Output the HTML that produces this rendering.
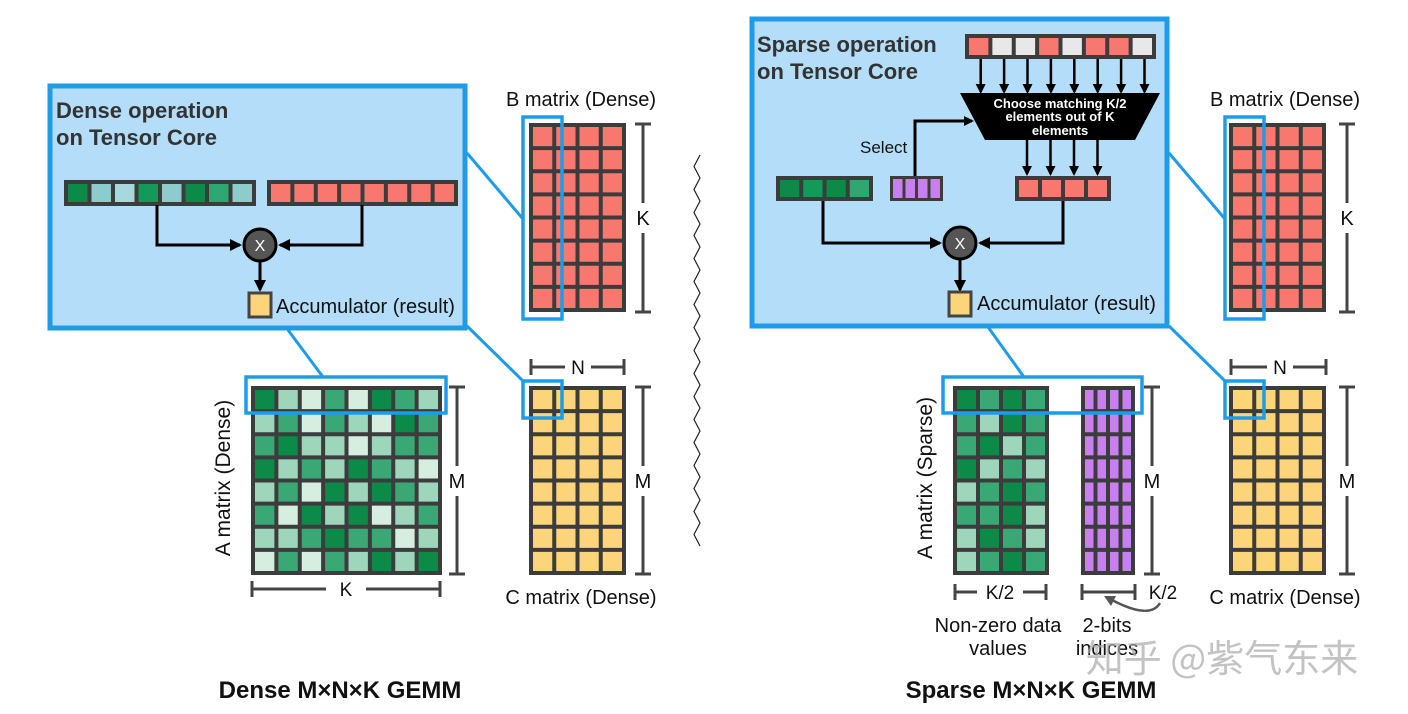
<!DOCTYPE html>
<html><head><meta charset="utf-8"><style>
body{margin:0;background:#fff}
svg{display:block;font-family:"Liberation Sans",Arial,sans-serif}
</style></head><body>
<svg id="s" width="1408" height="714" viewBox="0 0 1408 714" xmlns="http://www.w3.org/2000/svg">
<defs>
<marker id="ah" markerWidth="10" markerHeight="10" refX="8" refY="5" orient="auto" markerUnits="userSpaceOnUse"><path d="M0,0 L10,5 L0,10 z" fill="#000"/></marker>
<marker id="ah2" markerWidth="12" markerHeight="12" refX="10" refY="6" orient="auto" markerUnits="userSpaceOnUse"><path d="M0,0 L12,6 L0,12 z" fill="#000"/></marker>
</defs>
<rect x="50" y="86" width="415" height="242" fill="#b3ddf8" stroke="#1e9ce8" stroke-width="5"/>
<text x="56" y="118" font-size="22" font-weight="bold" fill="#333">Dense operation</text>
<text x="56" y="145" font-size="22" font-weight="bold" fill="#333">on Tensor Core</text>
<g id="L"></g>
<path d="M157,205 V245 H240" fill="none" stroke="#000" stroke-width="3" marker-end="url(#ah2)"/>
<path d="M362,205 V245 H280" fill="none" stroke="#000" stroke-width="3" marker-end="url(#ah2)"/>
<circle cx="260" cy="245" r="16" fill="#555" stroke="#000" stroke-width="3"/>
<text x="260" y="251" font-size="16" fill="#fff" text-anchor="middle">X</text>
<path d="M260,262 V290" stroke="#000" stroke-width="3" marker-end="url(#ah2)"/>
<rect x="249" y="293" width="22" height="24" fill="#fcd57a" stroke="#444" stroke-width="3"/>
<text x="276" y="313" font-size="20" fill="#111">Accumulator (result)</text>
<line x1="288" y1="330" x2="323" y2="377" stroke="#1e9ce8" stroke-width="3"/>
<line x1="467" y1="153" x2="523" y2="219" stroke="#1e9ce8" stroke-width="3"/>
<line x1="467" y1="326" x2="523" y2="381" stroke="#1e9ce8" stroke-width="3"/>
<text x="581" y="106" font-size="20" text-anchor="middle" fill="#111">B matrix (Dense)</text>
<text x="581" y="604" font-size="20" text-anchor="middle" fill="#111">C matrix (Dense)</text>
<text x="230" y="478" font-size="21" text-anchor="middle" fill="#111" transform="rotate(-90 230 478)">A matrix (Dense)</text>
<text x="340" y="698" font-size="24" font-weight="bold" text-anchor="middle" fill="#111">Dense M×N×K GEMM</text>
<rect x="752" y="19" width="415" height="307" fill="#b3ddf8" stroke="#1e9ce8" stroke-width="5"/>
<text x="757" y="52" font-size="22" font-weight="bold" fill="#333">Sparse operation</text>
<text x="757" y="79" font-size="22" font-weight="bold" fill="#333">on Tensor Core</text>
<polygon points="960,93 1160,93 1135,140 985,140" fill="#000"/>
<text x="1060" y="108" font-size="13" font-weight="bold" fill="#fff" text-anchor="middle">Choose matching K/2</text>
<text x="1060" y="121" font-size="13" font-weight="bold" fill="#fff" text-anchor="middle">elements out of K</text>
<text x="1060" y="135" font-size="13" font-weight="bold" fill="#fff" text-anchor="middle">elements</text>
<text x="860" y="153" font-size="17" fill="#111">Select</text>
<path d="M915,176 V121 H972" fill="none" stroke="#000" stroke-width="3" marker-end="url(#ah)"/>
<path d="M823,201 V243 H940" fill="none" stroke="#000" stroke-width="3" marker-end="url(#ah2)"/>
<path d="M1063,201 V243 H980" fill="none" stroke="#000" stroke-width="3" marker-end="url(#ah2)"/>
<circle cx="960" cy="243" r="16" fill="#555" stroke="#000" stroke-width="3"/>
<text x="960" y="249" font-size="16" fill="#fff" text-anchor="middle">X</text>
<path d="M960,260 V290" stroke="#000" stroke-width="3" marker-end="url(#ah2)"/>
<rect x="949" y="292" width="22" height="24" fill="#fcd57a" stroke="#444" stroke-width="3"/>
<text x="977" y="310" font-size="20" fill="#111">Accumulator (result)</text>
<g id="R"></g>
<line x1="988" y1="327" x2="1024" y2="377" stroke="#1e9ce8" stroke-width="3"/>
<line x1="1169" y1="153" x2="1225" y2="219" stroke="#1e9ce8" stroke-width="3"/>
<line x1="1169" y1="326" x2="1225" y2="381" stroke="#1e9ce8" stroke-width="3"/>
<text x="1285" y="106" font-size="20" text-anchor="middle" fill="#111">B matrix (Dense)</text>
<text x="1285" y="604" font-size="20" text-anchor="middle" fill="#111">C matrix (Dense)</text>
<text x="932" y="478" font-size="21" text-anchor="middle" fill="#111" transform="rotate(-90 932 478)">A matrix (Sparse)</text>
<text x="998" y="632" font-size="20" text-anchor="middle" fill="#111">Non-zero data</text>
<text x="998" y="655" font-size="20" text-anchor="middle" fill="#111">values</text>
<text x="1107" y="632" font-size="20" text-anchor="middle" fill="#111">2-bits</text>
<text x="1107" y="655" font-size="20" text-anchor="middle" fill="#111">indices</text>
<path d="M1160,603 Q1150,620 1112,600" fill="none" stroke="#555" stroke-width="2.5"/>
<path d="M1104,596 L1116,596 L1111,606 z" fill="#555"/>
<text x="1031" y="698" font-size="24" font-weight="bold" text-anchor="middle" fill="#111">Sparse M×N×K GEMM</text>
<text x="1222" y="672" font-size="38" text-anchor="middle" fill="#aaa" fill-opacity="0.7" font-family="'Noto Sans CJK SC',sans-serif">知乎 @紫气东来</text>
<path id="zz" fill="none" stroke="#222" stroke-width="1.2"/>
</svg>
<script>
var NS="http://www.w3.org/2000/svg";
function el(p,t,a){var e=document.createElementNS(NS,t);for(var k in a)e.setAttribute(k,a[k]);p.appendChild(e);return e;}
function grid(p,x,y,w,h,c,r,fn,g){g=g||4;el(p,'rect',{x:x,y:y,width:w,height:h,fill:'#3c3c3c'});
var cw=(w-g)/c,ch=(h-g)/r;for(var i=0;i<r;i++)for(var j=0;j<c;j++)el(p,'rect',{x:x+g+j*cw,y:y+g+i*ch,width:cw-g,height:ch-g,fill:fn(i,j)});}
function brV(p,x,y1,y2,lab,ly){el(p,'path',{d:'M'+(x-8)+','+y1+'H'+(x+8)+'M'+x+','+y1+'V'+y2+'M'+(x-8)+','+y2+'H'+(x+8),stroke:'#444','stroke-width':3,fill:'none'});
el(p,'rect',{x:x-11,y:ly-15,width:22,height:30,fill:'#fff'});var t=el(p,'text',{x:x,y:ly+7,'font-size':20,'text-anchor':'middle',fill:'#111'});t.textContent=lab;}
function brH(p,y,x1,x2,lab,lx,bw){el(p,'path',{d:'M'+x1+','+(y-8)+'V'+(y+8)+'M'+x1+','+y+'H'+x2+'M'+x2+','+(y-8)+'V'+(y+8),stroke:'#444','stroke-width':3,fill:'none'});
if(lab){el(p,'rect',{x:lx-bw/2,y:y-12,width:bw,height:24,fill:'#fff'});var t=el(p,'text',{x:lx,y:y+7,'font-size':19,'text-anchor':'middle',fill:'#111'});t.textContent=lab;}}
var G=['#0b8a48','#3aa874','#9ed6bb','#d5eedf'];
var A=[[0,2,3,1,3,0,1,2],[2,1,3,1,2,3,0,1],[1,0,2,2,3,2,1,1],[0,2,1,2,0,1,2,3],[2,1,3,0,2,0,1,2],[1,3,0,2,0,3,2,1],[2,2,1,0,1,1,3,2],[3,1,3,1,2,0,2,0]];
var S=[[0,1,0,1],[1,2,0,1],[1,0,2,1],[0,2,1,2],[2,1,0,1],[1,1,0,2],[2,0,1,2],[2,1,0,1]];
var RED='#f87870',YEL='#fcd57a',PUR='#c87ff0';
var L=document.getElementById('L'),R=document.getElementById('R');
var T=['#0b8a48','#8ccccc','#a7d8dc','#139a58','#8ccccc','#0b8a48','#2ea870','#8ccccc'];
grid(L,64,180,192,26,8,1,function(i,j){return T[j];});
grid(L,267,180,191,26,8,1,function(){return RED;});
grid(L,251,386,191,189,8,8,function(i,j){return G[A[i][j]];});
grid(L,529,123,97,189,4,8,function(){return RED;});
grid(L,529,386,97,189,4,8,function(){return YEL;});
el(L,'rect',{x:246,y:377,width:200,height:36,fill:'none',stroke:'#1e9ce8','stroke-width':3.5});
el(L,'rect',{x:523,y:117,width:39,height:202,fill:'none',stroke:'#1e9ce8','stroke-width':3.5});
el(L,'rect',{x:523,y:381,width:39,height:37,fill:'none',stroke:'#1e9ce8','stroke-width':3.5});
brV(L,643,124,312,'K',218);brV(L,643,387,574,'M',481);brV(L,457,387,574,'M',481);
brH(L,367,531,624,'N',578,26);brH(L,589,252,440,'K',346,40);
var TOP=[RED,'#e8e8e8','#e8e8e8',RED,'#e8e8e8',RED,RED,'#e8e8e8'];
grid(R,965,34,191,25,8,1,function(i,j){return TOP[j];});
for(var j=0;j<8;j++){var x=967+4+j*23.4+9.7;el(R,'path',{d:'M'+x+',59V92',stroke:'#000','stroke-width':2.5,'marker-end':'url(#ah)'});}
for(var j=0;j<4;j++){var x=1027+j*23.5;el(R,'path',{d:'M'+x+',140V174',stroke:'#000','stroke-width':2.5,'marker-end':'url(#ah)'});}
grid(R,1015,176,96,25,4,1,function(){return RED;});
var SG=['#0b8a48','#139a58','#0b8a48','#2ea870'];
grid(R,776,176,97,25,4,1,function(i,j){return SG[j];});
grid(R,890,176,53,25,4,1,function(){return PUR;},3);
grid(R,953,386,96,189,4,8,function(i,j){return G[S[i][j]];});
grid(R,1081,386,54,189,4,8,function(){return PUR;},4);
grid(R,1229,123,97,189,4,8,function(){return RED;});
grid(R,1229,386,97,189,4,8,function(){return YEL;});
el(R,'rect',{x:943,y:377,width:199,height:36,fill:'none',stroke:'#1e9ce8','stroke-width':3.5});
el(R,'rect',{x:1225,y:117,width:39,height:202,fill:'none',stroke:'#1e9ce8','stroke-width':3.5});
el(R,'rect',{x:1225,y:381,width:39,height:37,fill:'none',stroke:'#1e9ce8','stroke-width':3.5});
brV(R,1347,124,312,'K',218);brV(R,1347,387,574,'M',481);brV(R,1152,387,574,'M',481);
brH(R,367,1231,1326,'N',1280,26);brH(R,592,955,1046,'K/2',1000,46);brH(R,592,1082,1135,'',0,0);
var t=el(R,'text',{x:1163,y:599,'font-size':19,'text-anchor':'middle',fill:'#111'});t.textContent='K/2';
var d='M700,155';for(var y=155,k=0;y<540;y+=11.5,k++){d+=' L'+(k%2?700:694)+','+(y+11.5);}
document.getElementById('zz').setAttribute('d',d);
</script>
</body></html>
